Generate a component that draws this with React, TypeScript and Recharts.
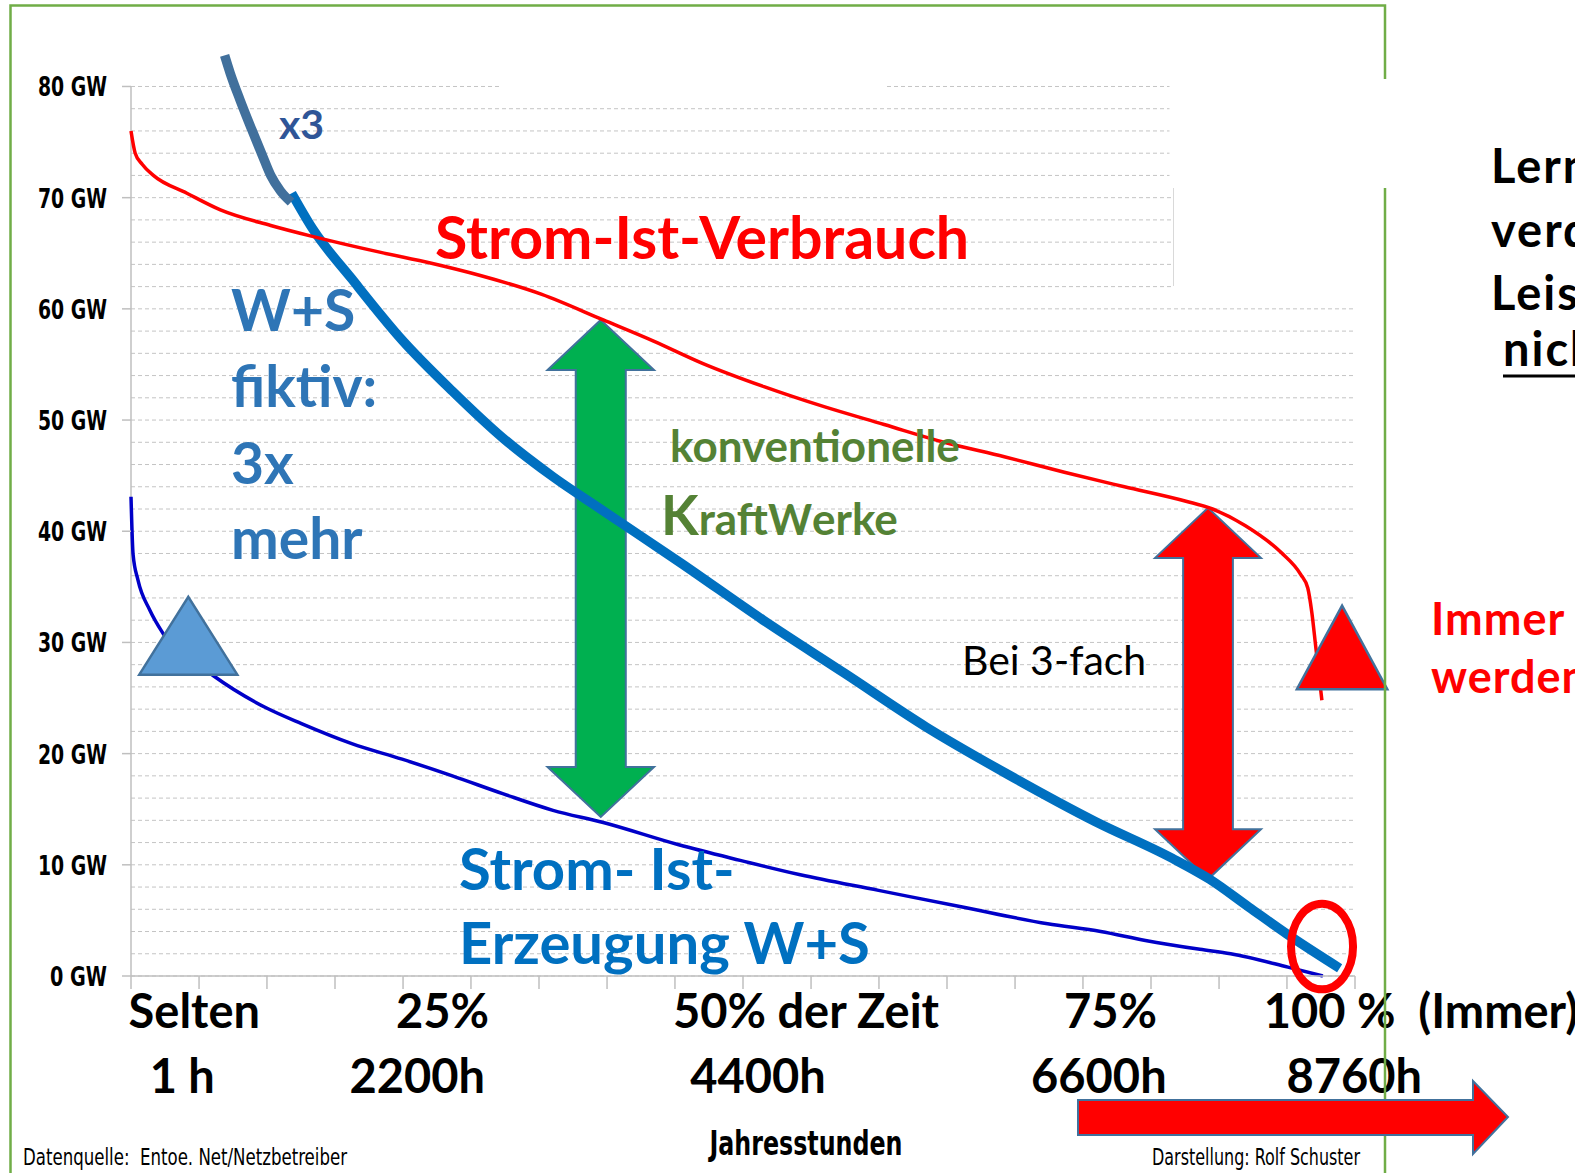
import React from 'react';
import {
  LineChart,
  Line,
  XAxis,
  YAxis,
  CartesianGrid,
  ReferenceArea,
  ReferenceDot,
  ReferenceLine,
} from 'recharts';

// Jahresdauerlinien: [Stunde, GW]
const verbrauch: [number, number][] = [
  [0, 76.0], [30, 74.0], [80, 73.0], [160, 72.0], [400, 70.4], [640, 68.9],
  [1000, 67.5], [1305, 66.5], [1780, 65.1], [2150, 64.1], [2500, 63.0], [2940, 61.3],
  [3380, 59.0], [3740, 57.1], [4090, 55.1], [4530, 53.0], [4960, 51.2], [5390, 49.6],
  [5820, 48.0], [6250, 46.7], [6680, 45.3], [7110, 44.0], [7550, 42.7], [7740, 42.0],
  [7976, 40.5], [8230, 38.1], [8372, 36.1], [8422, 34.9], [8451, 32.7], [8480, 29.5],
  [8501, 27.2], [8523, 24.8],
];

const wsIst: [number, number][] = [
  [0, 43.1], [15, 37.9], [50, 35.6], [135, 32.9], [230, 30.8], [590, 27.0],
  [970, 24.1], [1220, 22.7], [1580, 20.9], [1940, 19.5], [2300, 18.0], [2660, 16.4],
  [3020, 14.9], [3380, 13.8], [3920, 11.8], [4360, 10.4], [4790, 9.1], [5350, 7.7],
  [5950, 6.2], [6560, 4.7], [6940, 4.0], [7260, 3.2], [7650, 2.4], [7870, 2.0],
  [8280, 0.8], [8530, 0.0],
];

const wsFiktiv: [number, number][] = [
  [1150, 70.4], [1300, 67.2], [1580, 62.7], [1940, 57.2], [2300, 52.6], [2660, 48.4],
  [3020, 44.9], [3360, 42.0], [3940, 37.1], [4525, 32.0], [5110, 27.2], [5690, 22.4],
  [6280, 18.1], [6900, 13.9], [7450, 10.6], [7720, 8.7], [8000, 6.2], [8270, 3.8],
  [8650, 0.7],
];

// handgezeichnete Verlängerung "x3"
const wsX3: [number, number][] = [
  [670, 82.8], [710, 81.2], [780, 78.8], [865, 76.1], [940, 73.8], [1000, 72.0],
  [1070, 70.6], [1145, 69.6],
];

const gridTicks = Array.from({ length: 41 }, (_, i) => i * 2);
const xTicks = [0, 487, 973, 1460, 1947, 2433, 2920, 3407, 3893, 4380, 4867, 5353, 5840, 6327, 6813, 7300, 7787, 8273, 8760];

const pctLabels = ['Selten', '25%', '50% der Zeit', '75%', '100 %  (Immer)'];
const pctAt = [453, 2229, 4831, 7010, 8107];
const hourLabels = ['1 h', '2200h', '4400h', '6600h', '8760h'];
const hourAt = [367, 2049, 4487, 6927, 8755];

// Pfeile / Markierungen in Datenkoordinaten
const gruenPfeil = { h: [2981, 3743], gw: [14.3, 59.0] };
const rotPfeil = { h: [7329, 8087], gw: [8.7, 42.1] };
const blauDreieck = { h: [59, 761], gw: [27.1, 34.1] };
const rotDreieck = { h: [8344, 8991], gw: [25.8, 33.3] };
const rotKreis = { h: [8302, 8746], gw: [-1.2, 6.5] };

const toRows = (pts: [number, number][]) => pts.map(([h, gw]) => ({ h, gw }));

const lato = "Lato, 'Open Sans', sans-serif";
const narrow = "'Liberation Sans Narrow', 'DejaVu Sans Condensed', sans-serif";
const outline = '#41719c';

const doubleArrow = (fill: string) => (p: any) => {
  const { x, y, width: w, height: h } = p;
  const cx = x + w / 2;
  const s = w * 0.235;
  const head = 50;
  const pts = [
    [cx, y], [x + w, y + head], [cx + s, y + head], [cx + s, y + h - head],
    [x + w, y + h - head], [cx, y + h], [x, y + h - head], [cx - s, y + h - head],
    [cx - s, y + head], [x, y + head],
  ];
  return <polygon points={pts.map((q) => q.join(',')).join(' ')} fill={fill} stroke={outline} strokeWidth={2} />;
};

const triangle = (fill: string) => (p: any) => {
  const { x, y, width: w, height: h } = p;
  return <polygon points={`${x},${y + h} ${x + w},${y + h} ${x + w / 2},${y}`} fill={fill} stroke={outline} strokeWidth={2.5} />;
};

const ring = (p: any) => {
  const { x, y, width: w, height: h } = p;
  return <ellipse cx={x + w / 2} cy={y + h / 2} rx={w / 2} ry={h / 2} fill="none" stroke="#ff0000" strokeWidth={8} />;
};

const note = (key: string, h: number, gw: number, render: (x: number, y: number) => React.ReactNode) => (
  <ReferenceDot
    key={key}
    x={h}
    y={gw}
    r={0}
    ifOverflow="visible"
    zIndex={700}
    shape={(p: any) => <g>{render(p.cx, p.cy)}</g>}
  />
);

const GwTick = (props: any) => {
  const { x, y, payload } = props;
  const v = payload.value;
  if (v % 10 !== 0) return <g />;
  return (
    <g>
      <line x1={x - 9} y1={y} x2={x} y2={y} stroke="#bfbfbf" strokeWidth={1.5} />
      <text
        x={x - 24}
        y={y + 10}
        textAnchor="end"
        fontFamily={narrow}
        fontWeight={700}
        fontSize={27}
        fill="#000"
        textLength={v === 0 ? 57 : 69}
        lengthAdjust="spacingAndGlyphs"
      >
        {`${v} GW`}
      </text>
    </g>
  );
};

const TwoRowTick = (props: any) => {
  const { x, y, payload } = props;
  const v = payload.value;
  const pi = pctAt.indexOf(v);
  if (pi >= 0) {
    const last = pi === pctLabels.length - 1;
    return (
      <text x={x} y={y + 32} textAnchor={last ? 'start' : 'middle'} fontFamily={lato} fontWeight={700} fontSize={47} fill="#000" style={{ whiteSpace: 'pre' }}>
        {pctLabels[pi]}
      </text>
    );
  }
  const hi = hourAt.indexOf(v);
  if (hi >= 0) {
    return (
      <text x={x} y={y + 97} textAnchor="middle" fontFamily={lato} fontWeight={700} fontSize={47} fill="#000">
        {hourLabels[hi]}
      </text>
    );
  }
  return <g />;
};

const axisTitle = (props: any) => {
  const vb = props.viewBox;
  return (
    <text
      x={vb.x + vb.width / 2 + 63}
      y={vb.y + 159}
      textAnchor="middle"
      fontFamily={narrow}
      fontWeight={700}
      fontSize={34}
      fill="#000"
      textLength={193}
      lengthAdjust="spacingAndGlyphs"
    >
      Jahresstunden
    </text>
  );
};

const App = () => {
  return (
    <div style={{ position: 'absolute', left: 0, top: 0, width: 1575, height: 1173, overflow: 'hidden', background: '#fff' }}>
      <LineChart width={1575} height={1173} margin={{ top: 42, right: 220, bottom: 0, left: 0 }}>
        <XAxis
          type="number"
          dataKey="h"
          domain={[0, 8760]}
          ticks={xTicks}
          interval={0}
          height={20}
          tickSize={13}
          axisLine={{ stroke: '#bfbfbf', strokeWidth: 1.5 }}
          tickLine={{ stroke: '#bfbfbf', strokeWidth: 1.5 }}
          tick={() => <g />}
        />
        <XAxis
          xAxisId="lbl"
          type="number"
          dataKey="h"
          domain={[0, 8760]}
          allowDataOverflow
          ticks={[...pctAt, ...hourAt]}
          interval={0}
          height={177}
          axisLine={false}
          tickLine={false}
          tickSize={0}
          tickMargin={0}
          tick={<TwoRowTick />}
          label={axisTitle}
        />
        <YAxis
          type="number"
          domain={[0, 84]}
          ticks={gridTicks}
          interval={0}
          width={131}
          axisLine={false}
          tickLine={false}
          tickSize={0}
          tickMargin={0}
          tick={<GwTick />}
        />
        <CartesianGrid vertical={false} horizontalValues={gridTicks} syncWithTicks stroke="#c4c4c4" strokeDasharray="4 3" />
        <ReferenceLine segment={[{ x: 0, y: 0 }, { x: 0, y: 80 }]} stroke="#bfbfbf" strokeWidth={1.5} />

        <ReferenceArea x1={gruenPfeil.h[0]} x2={gruenPfeil.h[1]} y1={gruenPfeil.gw[0]} y2={gruenPfeil.gw[1]} ifOverflow="visible" shape={doubleArrow('#00b050')} />
        <ReferenceArea x1={rotPfeil.h[0]} x2={rotPfeil.h[1]} y1={rotPfeil.gw[0]} y2={rotPfeil.gw[1]} ifOverflow="visible" shape={doubleArrow('#ff0000')} />

        <Line data={toRows(wsFiktiv)} dataKey="gw" type="monotone" stroke="#0070c0" strokeWidth={9.5} dot={false} activeDot={false} isAnimationActive={false} />
        <Line data={toRows(wsX3)} dataKey="gw" type="monotone" stroke="#41709c" strokeWidth={9.5} dot={false} activeDot={false} isAnimationActive={false} />
        <Line data={toRows(wsIst)} dataKey="gw" type="monotone" stroke="#0000c8" strokeWidth={3.5} dot={false} activeDot={false} isAnimationActive={false} />
        <Line data={toRows(verbrauch)} dataKey="gw" type="monotone" stroke="#ff0000" strokeWidth={3.5} dot={false} activeDot={false} isAnimationActive={false} />

        <ReferenceArea x1={blauDreieck.h[0]} x2={blauDreieck.h[1]} y1={blauDreieck.gw[0]} y2={blauDreieck.gw[1]} ifOverflow="visible" zIndex={700} shape={triangle('#5b9bd5')} />
        <ReferenceArea x1={rotDreieck.h[0]} x2={rotDreieck.h[1]} y1={rotDreieck.gw[0]} y2={rotDreieck.gw[1]} ifOverflow="visible" zIndex={700} shape={triangle('#ff0000')} />
        <ReferenceArea x1={rotKreis.h[0]} x2={rotKreis.h[1]} y1={rotKreis.gw[0]} y2={rotKreis.gw[1]} ifOverflow="visible" zIndex={700} shape={ring} />

        {note('x3', 1059, 75.3, (x, y) => (
          <text x={x} y={y} fontFamily={lato} fontWeight={700} fontSize={41} fill="#2f5597">x3</text>
        ))}
        {note('verbrauch', 2176, 64.5, (x, y) => (
          <text x={x} y={y} fontFamily={lato} fontWeight={700} fontSize={59} fill="#ff0000">Strom-Ist-Verbrauch</text>
        ))}
        {note('fiktiv', 716, 58.0, (x, y) => (
          <text x={x} y={y} fontFamily={lato} fontWeight={700} fontSize={57} fill="#2e75b6">
            <tspan x={x} dy={0}>W+S</tspan>
            <tspan x={x} dy={76}>fiktiv:</tspan>
            <tspan x={x} dy={77}>3x</tspan>
            <tspan x={x} dy={75}>mehr</tspan>
          </text>
        ))}
        {note('konv', 3858, 46.2, (x, y) => (
          <text x={x} y={y} fontFamily={lato} fontWeight={700} fontSize={44} fill="#548235">konventionelle</text>
        ))}
        {note('kraft', 3793, 39.7, (x, y) => (
          <text x={x} y={y} fontFamily={lato} fontWeight={700} fill="#548235">
            <tspan fontSize={55}>K</tspan>
            <tspan fontSize={44}>raft</tspan>
            <tspan fontSize={42}>W</tspan>
            <tspan fontSize={44}>erke</tspan>
          </text>
        ))}
        {note('bei', 5947, 27.1, (x, y) => (
          <text x={x} y={y} fontFamily={lato} fontWeight={400} fontSize={41} fill="#000">Bei 3-fach</text>
        ))}
        {note('erzeugung', 2347, 7.7, (x, y) => (
          <text x={x} y={y} fontFamily={lato} fontWeight={700} fontSize={58} fill="#0070c0">
            <tspan x={x} dy={0}>Strom- Ist-</tspan>
            <tspan x={x} dy={74}>Erzeugung W+S</tspan>
          </text>
        ))}
      </LineChart>

      <svg width={1575} height={1173} style={{ position: 'absolute', left: 0, top: 0, pointerEvents: 'none' }}>
        <rect x={10.5} y={5.5} width={1374.5} height={1200} fill="none" stroke="#70ad47" strokeWidth={2.5} />
        <rect x={1169.5} y={79} width={406} height={109} fill="#fff" />
        <rect x={1173.5} y={188} width={209} height={109} fill="#fff" />
        <line x1={1173.5} y1={188} x2={1173.5} y2={286} stroke="#d9d9d9" strokeWidth={1} />
        <rect x={500} y={82} width={385} height={8} fill="#fff" />

        <g fontFamily={lato} fontWeight={700} fontSize={47} fill="#000" letterSpacing={2}>
          <text x={1491} y={183}>Lernen</text>
          <text x={1491} y={247}>verdrängt</text>
          <text x={1491} y={310}>Leistung</text>
          <text x={1503} y={366}>nicht</text>
        </g>
        <line x1={1503} y1={376} x2={1575} y2={376} stroke="#000" strokeWidth={3} />

        <g fontFamily={lato} fontWeight={700} fontSize={45} fill="#ff0000" letterSpacing={1}>
          <text x={1431} y={635}>Immer</text>
          <text x={1431} y={693}>werden</text>
        </g>

        <text
          x={23}
          y={1165}
          fontFamily={narrow}
          fontSize={23}
          fill="#000"
          style={{ whiteSpace: 'pre' }}
          textLength={324}
          lengthAdjust="spacingAndGlyphs"
        >
          Datenquelle:  Entoe. Net/Netzbetreiber
        </text>
        <text x={1152} y={1165} fontFamily={narrow} fontSize={23} fill="#000" textLength={208} lengthAdjust="spacingAndGlyphs">
          Darstellung: Rolf Schuster
        </text>

        <polygon
          points="1078,1100 1473,1100 1473,1081 1508,1117 1473,1154 1473,1135 1078,1135"
          fill="#ff0000"
          stroke={outline}
          strokeWidth={2}
        />
      </svg>
    </div>
  );
};

export default App;
